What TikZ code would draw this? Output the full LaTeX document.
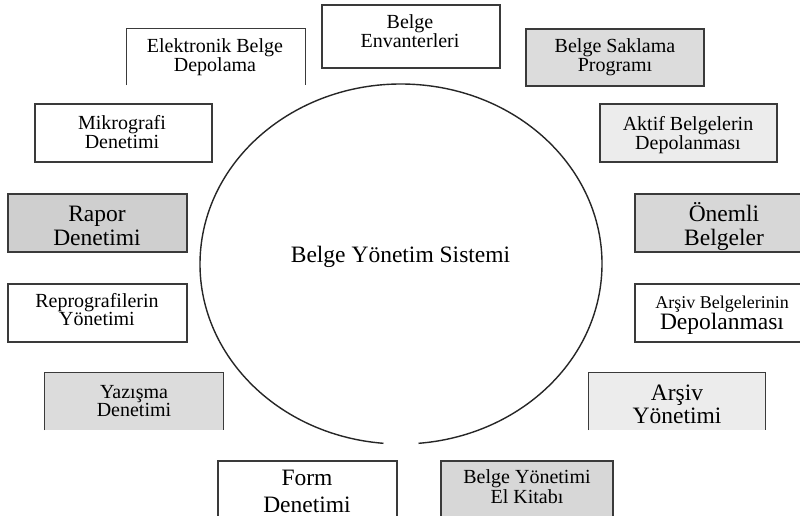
\documentclass[tikz,border=0pt]{standalone}
\usepackage{fontspec}
\setmainfont{Liberation Serif}
\newcommand\mylines[1]{\vtop{\halign{\hfil##\hfil\cr#1\crcr}}}
\definecolor{gA}{HTML}{DCDCDC}
\definecolor{gB}{HTML}{ECECEC}
\definecolor{gC}{HTML}{CFCFCF}
\definecolor{gD}{HTML}{D7D7D7}
\definecolor{edge}{HTML}{3A3A3A}
\tikzset{
  bx/.style={rectangle, draw=edge, line width=1.2pt, inner sep=0pt},
  ob/.style={rectangle, draw=none, inner sep=0pt},
  sd/.style={draw=edge, line width=1.2pt},
  ts/.style={anchor=base, inner sep=0pt, font=\fontsize{20}{18.5}\selectfont},
  tb/.style={anchor=base, inner sep=0pt, font=\fontsize{23.5}{24}\selectfont},
}
\begin{document}
\begin{tikzpicture}[x=1pt, y=-1pt]
\useasboundingbox (0,0) rectangle (800,516);
\clip (0,0) rectangle (800,516);
\fill[white] (0,0) rectangle (800,516);

% central ellipse, open at the bottom
\coordinate (c) at (401,264);
\draw[line width=1.4pt, black!85] (c) ++(95:201 and 180) arc[start angle=95, end angle=445, x radius=201, y radius=180];
\node[tb] (sys) at (400.5,262) {Belge Yönetim Sistemi};

% Belge Envanterleri
\node[bx, fill=white, minimum width=178pt, minimum height=63pt] (env) at (411,36.5) {};
\node[ts] (envt) at (410,29) {\mylines{Belge\cr Envanterleri}};

% Elektronik Belge Depolama (open bottom)
\node[ob, fill=white, minimum width=178pt, minimum height=56pt] (elek) at (216,57) {};
\draw[sd] (elek.south west) -- (elek.north west) -- (elek.north east) -- (elek.south east);
\node[ts] (elekt) at (215,53) {\mylines{Elektronik Belge\cr Depolama}};

% Belge Saklama Programi
\node[bx, fill=gA, minimum width=178pt, minimum height=57pt] (sak) at (615,57.5) {};
\node[ts] (sakt) at (615,53) {\mylines{Belge Saklama\cr Programı}};

% Aktif Belgelerin Depolanmasi
\node[bx, fill=gB, minimum width=177pt, minimum height=58pt] (akt) at (688.5,133) {};
\node[ts] (aktt) at (688,131) {\mylines{Aktif Belgelerin\cr Depolanması}};

% Mikrografi Denetimi
\node[bx, fill=white, minimum width=177pt, minimum height=58pt] (mik) at (123.5,133) {};
\node[ts] (mikt) at (122,130) {\mylines{Mikrografi\cr Denetimi}};

% Rapor Denetimi
\node[bx, fill=gC, minimum width=179pt, minimum height=58pt] (rap) at (97.5,223) {};
\node[tb] (rapt) at (97,221) {\mylines{Rapor\cr Denetimi}};

% Onemli Belgeler
\node[bx, fill=gD, minimum width=177pt, minimum height=58pt] (onem) at (723.5,223) {};
\node[tb] (onemt) at (724,221) {\mylines{Önemli\cr Belgeler}};

% Reprografilerin Yonetimi
\node[bx, fill=white, minimum width=179pt, minimum height=58pt] (rep) at (97.5,313) {};
\node[ts] (rept) at (97,307) {\mylines{Reprografilerin\cr Yönetimi}};

% Arsiv Belgelerinin Depolanmasi
\node[bx, fill=white, minimum width=177pt, minimum height=58pt] (arsb) at (723.5,313) {};
\node[anchor=base, inner sep=0pt, font=\fontsize{18}{20}\selectfont] (arsbt) at (722,308)
  {\mylines{Arşiv Belgelerinin\cr \fontsize{23.5}{24}\selectfont Depolanması}};

% Yazisma Denetimi (open bottom)
\node[ob, fill=gA, minimum width=178pt, minimum height=57pt] (yaz) at (134,401.5) {};
\draw[sd] (yaz.south west) -- (yaz.north west) -- (yaz.north east) -- (yaz.south east);
\node[ts] (yazt) at (134,398) {\mylines{Yazışma\cr Denetimi}};

% Arsiv Yonetimi (open bottom)
\node[ob, fill=gB, minimum width=176pt, minimum height=57pt] (arsy) at (677,401.5) {};
\draw[sd] (arsy.south west) -- (arsy.north west) -- (arsy.north east) -- (arsy.south east);
\node[tb, font=\fontsize{23.5}{23}\selectfont] (arsyt) at (677,400) {\mylines{Arşiv\cr Yönetimi}};

% Form Denetimi
\node[bx, fill=white, minimum width=179pt, minimum height=79pt] (form) at (307.5,500.5) {};
\node[tb, font=\fontsize{23.5}{27}\selectfont] (formt) at (307,485) {\mylines{Form\cr Denetimi}};

% Belge Yonetimi El Kitabi
\node[bx, fill=gD, minimum width=172pt, minimum height=79pt] (kit) at (527,500.5) {};
\node[ts, font=\fontsize{20}{20}\selectfont] (kitt) at (527,483) {\mylines{Belge Yönetimi\cr El Kitabı}};
\end{tikzpicture}
\end{document}
